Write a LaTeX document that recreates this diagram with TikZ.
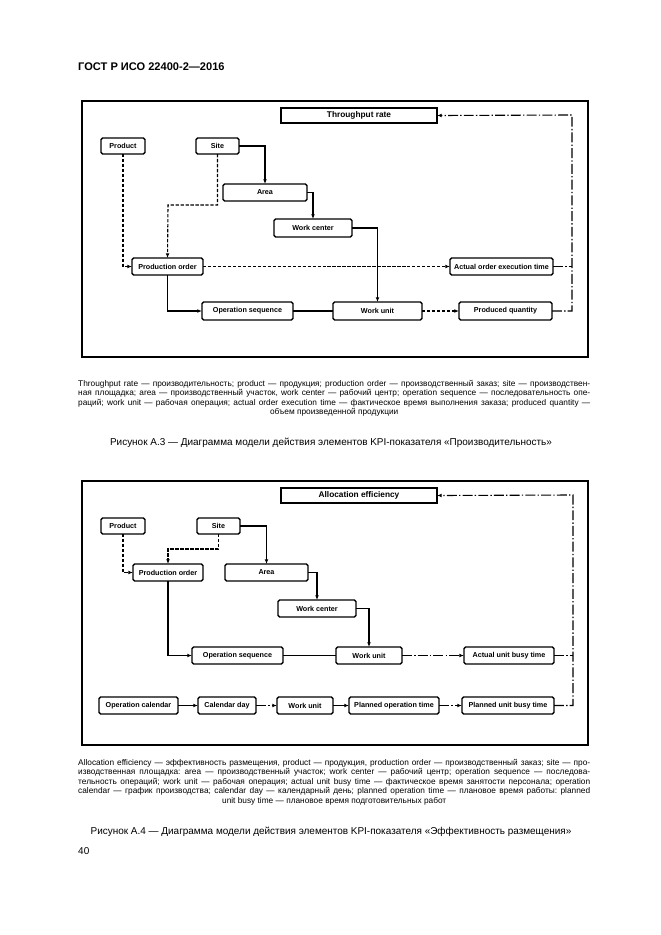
\documentclass[tikz,border=0pt]{standalone}
\usepackage{fontspec}
\setmainfont{Liberation Sans}
\usetikzlibrary{arrows.meta,calc}
\frenchspacing
\newcommand\mkbox[7]{\node[#1, minimum width={(#5-#3)*0.3176mm}, minimum height={(#6-#4)*0.3176mm}] (#2) at ({(#3+#5)/2},{(#4+#6)/2}) {#7};}
\tikzset{
 box/.style={draw, line width=1.3pt, rounded corners=1.5pt, inner sep=0pt, outer sep=0pt, font=\fontsize{6.5}{7}\selectfont\bfseries},
 kpi/.style={draw, line width=1.8pt, inner sep=0pt, outer sep=0pt, font=\fontsize{7.5}{8}\selectfont\bfseries},
 tip/.style={-{Latex[length=4.2pt,width=3.4pt]}},
 solidc/.style={line width=1.1pt},
 heavy/.style={line width=1.6pt},
 dsh/.style={line width=1pt, dash pattern=on 3pt off 1.5pt},
 dd/.style={line width=1pt, dash pattern=on 9pt off 2pt on 1.2pt off 2pt},
 frame/.style={line width=1.5pt},
 legend/.style={anchor=north west, inner sep=0pt, text width={512*0.3176mm}, align=justify, font=\fontsize{7.5}{8.6}\selectfont\frenchspacing},
 caption/.style={inner sep=0pt, font=\fontsize{9}{11}\selectfont},
}
\begin{document}
\begin{tikzpicture}[x=0.3176mm,y=-0.3176mm]
\useasboundingbox (0,0) rectangle (661,935);
\fill[white] (0,0) rectangle (661,935);

\node[anchor=west, inner sep=0pt, font=\fontsize{10}{12}\selectfont\bfseries] (hdr) at (78,67) {ГОСТ Р ИСО 22400-2—2016};

% ---------- Figure A.3 ----------
\draw[frame] (82,101) rectangle (588,357);
\mkbox{kpi}{tr}{281}{108}{437}{123}{Throughput rate}
\mkbox{box}{prod}{101}{138}{145}{154}{Product}
\mkbox{box}{site}{196}{138}{239}{154}{Site}
\mkbox{box}{area}{223}{184}{307}{201}{Area}
\mkbox{box}{wc}{274}{219}{352}{237}{Work center}
\mkbox{box}{po}{132}{258}{203}{275}{Production order}
\mkbox{box}{aoet}{450}{258}{553}{275}{Actual order execution time}
\mkbox{box}{os}{202}{302}{293}{320}{Operation sequence}
\mkbox{box}{wu}{333}{302}{422}{320}{Work unit}
\mkbox{box}{pq}{459}{302}{552}{320}{Produced quantity}
\coordinate (r1) at (572,115);
\coordinate (k1) at (168,205);

\draw[solidc,tip] (site.east) -| (area.north);
\draw[heavy,tip] (area.east) -| (wc.north);
\draw[solidc,tip] (wc.east) -| (wu.north);
\draw[dsh,tip] (site.south) |- (k1) -- (po.north);
\draw[dsh,tip] (prod.south) |- (po.west);
\draw[dsh,tip] (po.east) -- (aoet.west);
\draw[heavy,tip] (po.south) |- (os.west);
\draw[solidc] (os.east) -- (wu.west);
\draw[dsh,tip] (wu.east) -- (pq.west);
\draw[dd,tip] (pq.east) -| (r1) -- (tr.east);
\draw[dd] (aoet.east) -- (aoet.east -| r1);

\node[legend] (leg1) at (78,380) {Throughput rate — производительность; product — продукция; production order — производственный заказ; site — производствен-\linebreak ная площадка; area — производственный участок, work center — рабочий центр; operation sequence — последовательность опе-\linebreak раций; work unit — рабочая операция; actual order execution time — фактическое время выполнения заказа; produced quantity —\linebreak\makebox[\hsize][c]{объем произведенной продукции}};
\node[caption] (cap1) at (331,443) {Рисунок А.3 — Диаграмма модели действия элементов KPI-показателя «Производительность»};

% ---------- Figure A.4 ----------
\draw[frame] (82,481) rectangle (588,745);
\mkbox{kpi}{ae}{281}{488}{437}{503}{Allocation efficiency}
\mkbox{box}{prodb}{101}{518}{145}{534}{Product}
\mkbox{box}{siteb}{197}{518}{240}{534}{Site}
\mkbox{box}{pob}{133}{564}{203}{581}{Production order}
\mkbox{box}{areab}{225}{564}{308}{581}{Area}
\mkbox{box}{wcb}{278}{600}{356}{617}{Work center}
\mkbox{box}{osb}{192}{647}{283}{664}{Operation sequence}
\mkbox{box}{wub}{336}{647}{402}{664}{Work unit}
\mkbox{box}{aubt}{464}{647}{554}{664}{Actual unit busy time}
\mkbox{box}{oc}{99}{697}{178}{714}{Operation calendar}
\mkbox{box}{cd}{198}{697}{256}{714}{Calendar day}
\mkbox{box}{wuc}{277}{697}{333}{714}{Work unit}
\mkbox{box}{pot}{349}{697}{439}{714}{Planned operation time}
\mkbox{box}{pubt}{462}{697}{554}{714}{Planned unit busy time}
\coordinate (r2) at (573,495);
\coordinate (k2) at (168,549);

\draw[dsh,tip] (prodb.south) |- (pob.west);
\draw[dsh,tip] (siteb.south) |- (k2) -- (pob.north);
\draw[heavy,tip] (siteb.east) -| (areab.north);
\draw[heavy,tip] (areab.east) -| (wcb.north);
\draw[heavy,tip] (wcb.east) -| (wub.north);
\draw[solidc,tip] (pob.south) |- (osb.west);
\draw[solidc] (osb.east) -- (wub.west);
\draw[dd,tip] (wub.east) -- (aubt.west);
\draw[dd] (aubt.east) -- (aubt.east -| r2);
\draw[dd,tip] (pubt.east) -| (r2) -- (ae.east);
\draw[heavy,tip] (oc.east) -- (cd.west);
\draw[dd,tip] (cd.east) -- (wuc.west);
\draw[solidc,tip] (wuc.east) -- (pot.west);
\draw[dd,tip] (pot.east) -- (pubt.west);

\node[legend] (leg2) at (78,759) {Allocation efficiency — эффективность размещения, product — продукция, production order — производственный заказ; site — про-\linebreak изводственная площадка: area — производственный участок; work center — рабочий центр; operation sequence — последова-\linebreak тельность операций; work unit — рабочая операция; actual unit busy time — фактическое время занятости персонала; operation\linebreak calendar — график производства; calendar day — календарный день; planned operation time — плановое время работы: planned\linebreak\makebox[\hsize][c]{unit busy time — плановое время подготовительных работ}};
\node[caption] (cap2) at (331,832) {Рисунок А.4 — Диаграмма модели действия элементов KPI-показателя «Эффективность размещения»};

\node[anchor=west, inner sep=0pt, font=\fontsize{9}{11}\selectfont] (pg) at (78,851) {40};
\end{tikzpicture}
\end{document}
